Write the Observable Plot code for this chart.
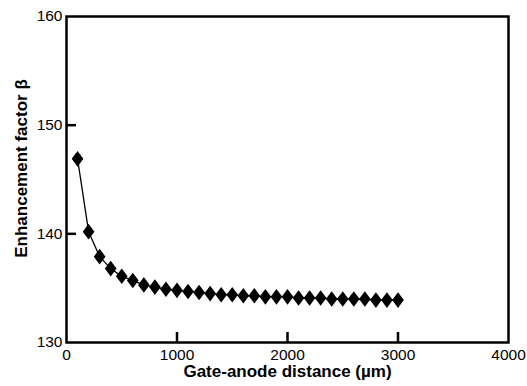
<!DOCTYPE html>
<html><head><meta charset="utf-8">
<script src="https://cdn.jsdelivr.net/npm/d3@7"></script>
<script src="https://cdn.jsdelivr.net/npm/@observablehq/plot@0.6"></script>
<style>
html,body{margin:0;padding:0;background:#fff;}
svg{font-family:"Liberation Sans",Arial,sans-serif;}
</style></head>
<body><div id="chart"></div>
<script>
const distances = [100,200,300,400,500,600,700,800,900,1000,1100,1200,1300,1400,1500,1600,1700,1800,1900,2000,2100,2200,2300,2400,2500,2600,2700,2800,2900,3000];
const beta = [146.9,140.2,137.9,136.8,136.1,135.7,135.3,135.1,134.9,134.8,134.7,134.6,134.5,134.4,134.4,134.3,134.3,134.2,134.2,134.2,134.1,134.1,134.1,134.0,134.0,134.0,134.0,133.9,133.9,133.9];
const xTicks = [0,1000,2000,3000,4000];
const yTicks = [130,140,150,160];
const xTitle = "Gate-anode distance (µm)";
const yTitle = "Enhancement factor β";

const data = distances.map((d,i)=>({x:d, y:beta[i]}));

const tallDiamond = {
  draw(ctx, size) {
    const r = Math.sqrt(size/Math.PI);
    ctx.moveTo(0,-r); ctx.lineTo(r*0.75,0); ctx.lineTo(0,r); ctx.lineTo(-r*0.75,0); ctx.closePath();
  }
};

const W = 527, H = 386, ML = 66, MR = 19, MT = 16, MB = 44;
const TL = 10;

const chart = Plot.plot({
  width: W, height: H,
  marginLeft: ML, marginRight: MR, marginTop: MT, marginBottom: MB,
  x: {domain: [0,4000]},
  y: {domain: [130,160]},
  style: {fontSize: "15px", color: "#000", background: "#fff"},
  marks: [
    Plot.axisX(xTicks, {tickSize: 0, tickPadding: 6, tickFormat: d => String(d), label: null, fontSize: 15.5, letterSpacing: -0.8, fill: "#000"}),
    Plot.axisY(yTicks, {tickSize: 0, tickPadding: 4, tickFormat: d => String(d), label: null, fontSize: 15.5, letterSpacing: -0.8, fill: "#000"}),
    Plot.tickX(xTicks.slice(1, -1), {x: d => d, insetTop: (H - MT - MB) - TL, stroke: "#000", strokeWidth: 2.5}),
    Plot.tickY(yTicks.slice(1, -1), {y: d => d, insetRight: (W - ML - MR) - TL, stroke: "#000", strokeWidth: 2.5}),
    Plot.frame({strokeWidth: 2.5, stroke: "#000"}),
    Plot.line(data, {x: "x", y: "y", stroke: "#000", strokeWidth: 1.3}),
    Plot.dot(data, {x: "x", y: "y", symbol: tallDiamond, r: 7.8, fill: "#000", stroke: "none"}),
    Plot.text([xTitle], {text: d=>d, frameAnchor: "bottom", dy: 29, lineAnchor: "middle", fontWeight: "bold", fontSize: 17, fill: "#000"}),
    Plot.text([yTitle], {text: d=>d, frameAnchor: "left", textAnchor: "middle", lineAnchor: "middle", dx: -45, dy: -11, rotate: -90, fontWeight: "bold", fontSize: 17, fill: "#000"})
  ]
});
document.getElementById("chart").appendChild(chart);
</script></body></html>
